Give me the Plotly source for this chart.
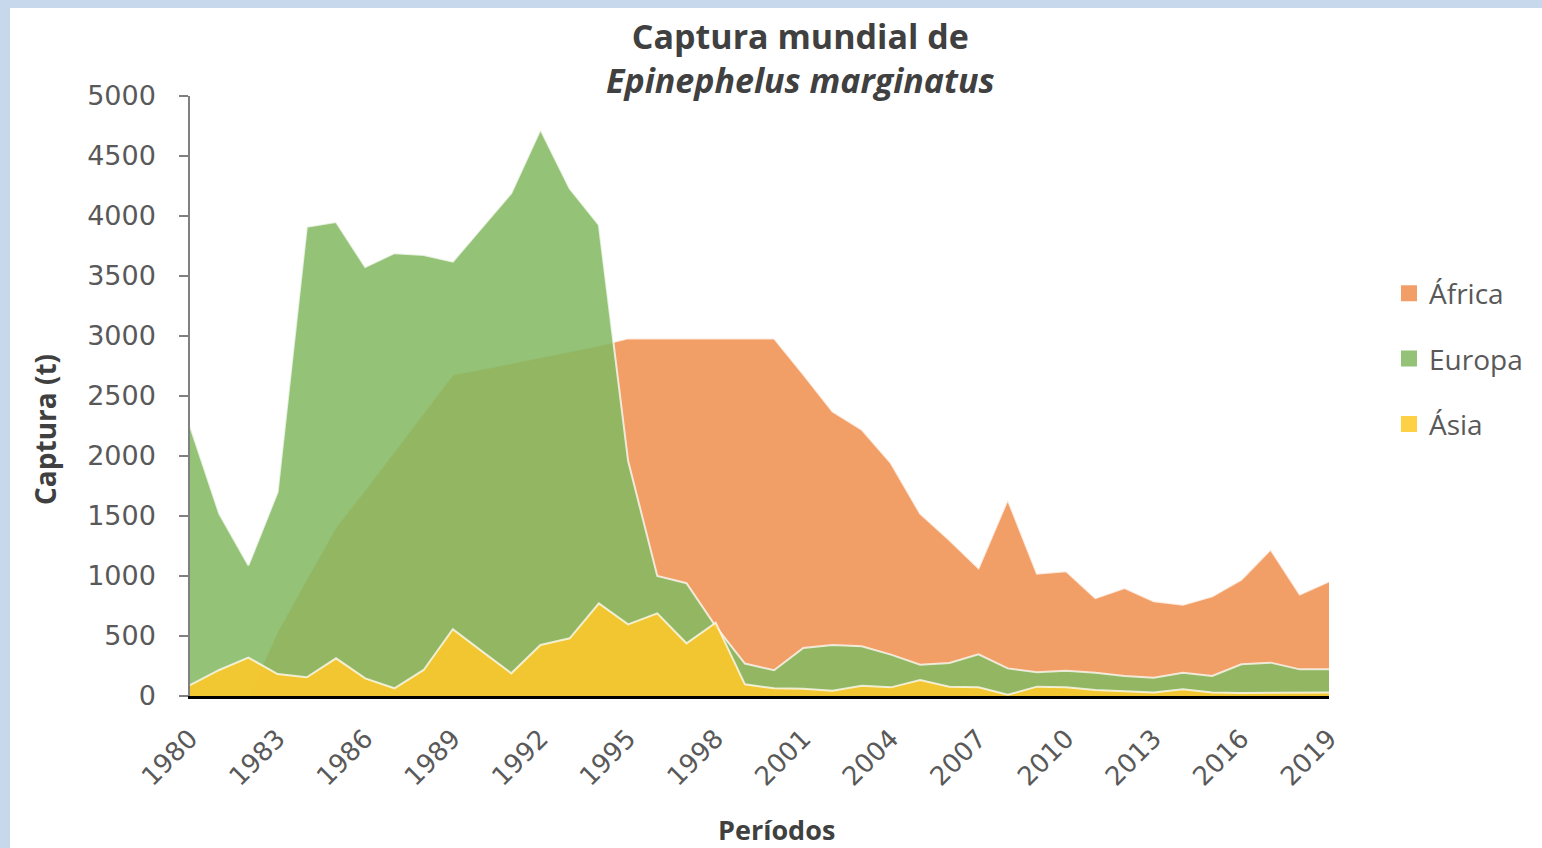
import plotly.graph_objects as go

years = list(range(1980, 2020))

africa = [None, None, 0, 540, 980, 1410, 1720, 2040, 2350, 2680,
          2725, 2775, 2820, 2870, 2920, 2980, 2980, 2980, 2980, 2980,
          2980, 2680, 2370, 2220, 1940, 1520, 1300, 1065, 1635, 1020,
          1040, 815, 900, 790, 760, 830, 970, 1220, 845, 955]

europa = [2250, 1520, 1090, 1700, 3910, 3950, 3575, 3690, 3675, 3620,
          3905, 4190, 4720, 4230, 3925, 1960, 1000, 940, 580, 270,
          215, 400, 425, 415, 345, 260, 275, 348, 230, 197,
          211, 194, 167, 153, 194, 167, 264, 278, 222, 222]

asia = [90, 217, 320, 183, 156, 314, 147, 64, 217, 556,
        372, 189, 425, 481, 772, 597, 689, 439, 611, 97,
        64, 60, 44, 86, 72, 133, 78, 72, 10, 78,
        72, 50, 39, 30, 56, 30, 25, 25, 30, 30]

series_names = ["África", "Europa", "Ásia"]
series_values = [africa, europa, asia]
series_colors = ["rgba(240,145,80,0.87)", "rgba(132,185,98,0.87)", "rgba(255,200,40,0.87)"]

x_tickvals = list(range(1980, 2020, 3))
y_tickvals = list(range(0, 5001, 500))

title_text = "<b>Captura mundial de</b><br><b><i>Epinephelus marginatus</i></b>"
y_title = "Captura (t)"
x_title = "Períodos"

fig = go.Figure()

for name, vals, col in zip(series_names, series_values, series_colors):
    fig.add_trace(go.Scatter(
        x=years, y=vals, mode="lines", fill="tozeroy",
        fillcolor=col, line=dict(color="rgba(255,255,255,0.75)", width=2),
        name=name, showlegend=False, hoverinfo="x+y+name"))

for name, col in zip(series_names, series_colors):
    fig.add_trace(go.Scatter(
        x=[None], y=[None], mode="markers", name=name, legendgroup=name,
        marker=dict(symbol="square", size=16, color=col)))

W, H = 1542, 848
L, R, T, B = 190, 213, 96, 152
pw, ph = W - L - R, H - T - B

def px(x):
    return (x - L) / pw

def py(y):
    return (H - B - y) / ph

fig.add_shape(type="rect", xref="paper", yref="paper",
              x0=px(10), x1=px(W + 20), y0=py(H + 20), y1=py(8),
              fillcolor="white", line=dict(width=0), layer="below")

grey = "#595959"
fig.add_annotation(text=title_text, xref="paper", yref="paper",
                   x=px(800), y=py(58), xanchor="center", yanchor="middle",
                   showarrow=False, font=dict(family="Open Sans", size=34, color="#404040"))
fig.add_annotation(text="<b>" + y_title + "</b>", xref="paper", yref="paper",
                   x=px(45), y=py(430), textangle=-90, xanchor="center", yanchor="middle",
                   showarrow=False, font=dict(family="Open Sans", size=28, color="#404040"))
fig.add_annotation(text="<b>" + x_title + "</b>", xref="paper", yref="paper",
                   x=px(776), y=py(829), xanchor="center", yanchor="middle",
                   showarrow=False, font=dict(family="Open Sans", size=27, color="#404040"))

fig.update_layout(
    width=W, height=H,
    margin=dict(l=L, r=R, t=T, b=B),
    paper_bgcolor="#C7D7EC",
    plot_bgcolor="white",
    showlegend=True,
    legend=dict(x=px(1389), y=py(359), xanchor="left", yanchor="middle",
                font=dict(family="Open Sans", size=28, color=grey),
                tracegroupgap=26, bgcolor="rgba(0,0,0,0)"),
    xaxis=dict(range=[1980, 2019], tickvals=x_tickvals, tickangle=-45,
               showgrid=False, zeroline=False, showline=True, linecolor="black", linewidth=3,
               ticks="", ticklabelstandoff=14,
               tickfont=dict(family="DejaVu Sans", size=26, color=grey)),
    yaxis=dict(range=[0, 5000], tickvals=y_tickvals, showgrid=False, zeroline=False,
               showline=True, linecolor="#808080", linewidth=1.5,
               ticks="outside", ticklen=9, tickcolor="#808080", tickwidth=1.5,
               ticklabelstandoff=18,
               tickfont=dict(family="DejaVu Sans", size=27, color=grey)),
)

fig.write_html("out.html", config={"displayModeBar": False},
               post_script="document.body.style.margin='0';document.body.style.padding='0';"
                           "document.body.style.overflow='hidden';")
